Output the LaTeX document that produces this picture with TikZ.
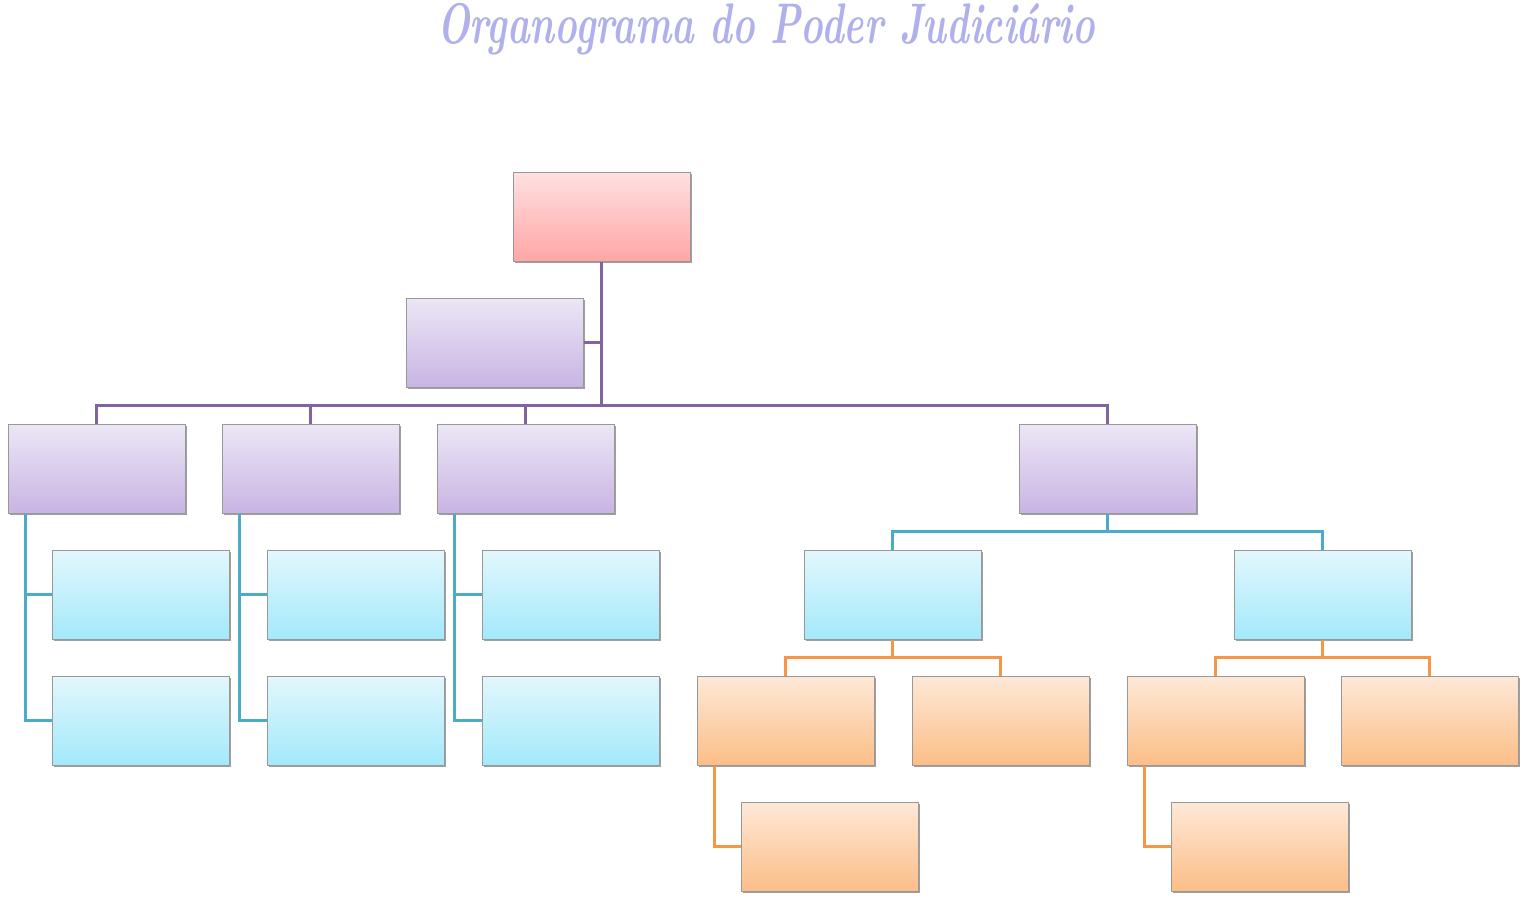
\documentclass[tikz,border=0pt]{standalone}
\usetikzlibrary{shadows,calc}
\definecolor{purpleline}{HTML}{8064A2}
\definecolor{cyanline}{HTML}{4BACC6}
\definecolor{orangeline}{HTML}{F79646}
\definecolor{titlecol}{HTML}{B0B0EC}
\tikzset{
  box/.style={rectangle, draw=black!40, line width=0.8pt, minimum width=177pt, minimum height=89pt, anchor=north west, inner sep=0pt,
    drop shadow={shadow xshift=1.2pt, shadow yshift=-1.8pt, opacity=0.5, fill=black!75}},
  redbox/.style={box, top color=red!12, bottom color=red!35!white!100},
  purplebox/.style={box, top color={rgb,255:red,236;green,230;blue,246}, bottom color={rgb,255:red,200;green,180;blue,227}},
  cyanbox/.style={box, top color={rgb,255:red,226;green,247;blue,252}, bottom color={rgb,255:red,163;green,233;blue,251}},
  orangebox/.style={box, top color={rgb,255:red,253;green,232;blue,215}, bottom color={rgb,255:red,252;green,190;blue,135}},
  pline/.style={draw=purpleline, line width=3pt},
  cline/.style={draw=cyanline, line width=3pt},
  oline/.style={draw=orangeline, line width=3pt},
}
\begin{document}
\begin{tikzpicture}[x=1pt,y=-1pt]
\useasboundingbox (0,0) rectangle (1537,901);
\node[text=titlecol, font=\fontsize{44}{44}\selectfont\bfseries\itshape, anchor=base, xscale=0.87, yscale=1.3] (title) at (766,44) {Organograma do Poder Judiciário};
% boxes
\node[redbox] (root) at (513,172) {};
\node[purplebox] (asst) at (406,298) {};
\node[purplebox] (a) at (8,424) {};
\node[purplebox] (b) at (222,424) {};
\node[purplebox] (c) at (437,424) {};
\node[purplebox] (d) at (1019,424) {};
\node[cyanbox] (a1) at (52,550) {};
\node[cyanbox] (a2) at (52,676) {};
\node[cyanbox] (b1) at (267,550) {};
\node[cyanbox] (b2) at (267,676) {};
\node[cyanbox] (c1) at (482,550) {};
\node[cyanbox] (c2) at (482,676) {};
\node[cyanbox] (d1) at (804,550) {};
\node[cyanbox] (d2) at (1234,550) {};
\node[orangebox] (o1) at (697,676) {};
\node[orangebox] (o2) at (912,676) {};
\node[orangebox] (o3) at (1127,676) {};
\node[orangebox] (o4) at (1341,676) {};
\node[orangebox] (o5) at (741,802) {};
\node[orangebox] (o6) at (1171,802) {};
% purple connectors
\coordinate (bus) at ($(root.south)+(0,144)$);
\draw[pline] (root.south) -- (bus);
\draw[pline] (asst.east) -- (asst.east -| root.south);
\draw[pline] (a.north) -- (a.north |- bus) -- (d.north |- bus) -- (d.north);
\draw[pline] (b.north) -- (b.north |- bus);
\draw[pline] (c.north) -- (c.north |- bus);
% cyan
\draw[cline] ($(a.south west)+(17,0)$) |- (a1.west);
\draw[cline] ($(a.south west)+(17,0)$) |- (a2.west);
\draw[cline] ($(b.south west)+(17,0)$) |- (b1.west);
\draw[cline] ($(b.south west)+(17,0)$) |- (b2.west);
\draw[cline] ($(c.south west)+(17,0)$) |- (c1.west);
\draw[cline] ($(c.south west)+(17,0)$) |- (c2.west);
\draw[cline] (d.south) -- ++(0,18) -| (d1.north);
\draw[cline] (d.south) -- ++(0,18) -| (d2.north);
% orange
\draw[oline] (d1.south) -- ++(0,18) -| (o1.north);
\draw[oline] (d1.south) -- ++(0,18) -| (o2.north);
\draw[oline] (d2.south) -- ++(0,18) -| (o3.north);
\draw[oline] (d2.south) -- ++(0,18) -| (o4.north);
\draw[oline] ($(o1.south west)+(17,0)$) |- (o5.west);
\draw[oline] ($(o3.south west)+(17,0)$) |- (o6.west);
\end{tikzpicture}
\end{document}
